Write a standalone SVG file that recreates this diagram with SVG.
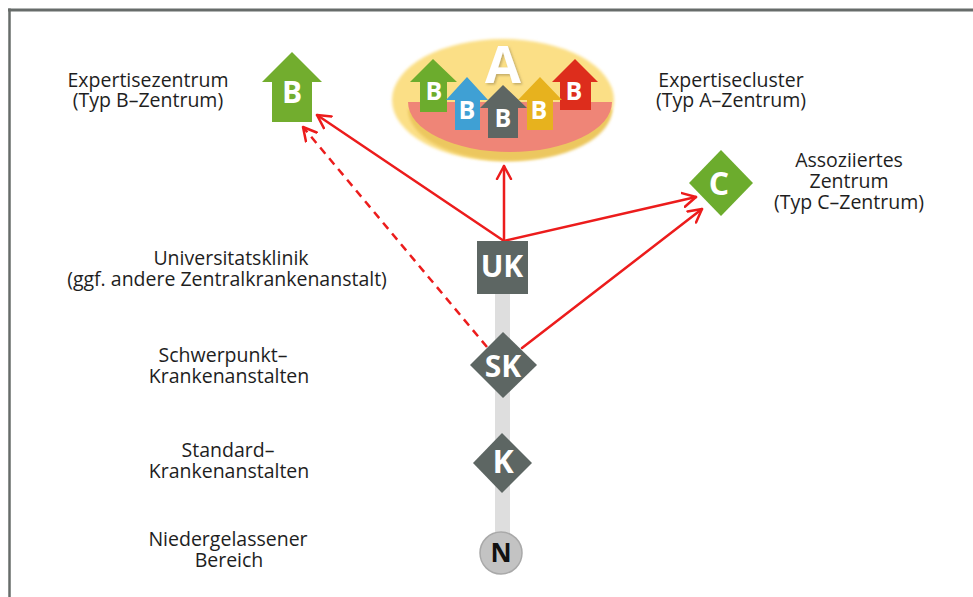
<svg xmlns="http://www.w3.org/2000/svg" width="973" height="597" viewBox="0 0 973 597">
  <defs>
    <style>
      .lbl { font-family: "Open Sans", "Liberation Sans", sans-serif; font-size: 19.5px; fill: #1e1e1e; text-anchor: middle; }
      .ltr { font-family: "Open Sans", "Liberation Sans", sans-serif; font-weight: bold; fill: #ffffff; text-anchor: middle; }
      .conn { stroke: #ec1c1c; stroke-width: 2.5; fill: none; stroke-linecap: round; }
      .dash { stroke-dasharray: 8 6; stroke-linecap: butt; }
      .frame { stroke: #676c6a; fill: none; }
    </style>
    <filter id="shadow" x="-30%" y="-30%" width="160%" height="160%">
      <feDropShadow dx="1.5" dy="1.5" stdDeviation="1" flood-color="#9a8550" flood-opacity="0.6"/>
    </filter>
    <filter id="soft" x="-10%" y="-10%" width="120%" height="120%">
      <feGaussianBlur stdDeviation="1.5"/>
    </filter>
    <marker id="arr" markerUnits="userSpaceOnUse" markerWidth="18" markerHeight="18" refX="14" refY="8" orient="auto" viewBox="0 0 18 16">
      <path d="M1,1 L14,8 L1,15" fill="none" stroke="#ec1c1c" stroke-width="2.5" stroke-linejoin="round" stroke-linecap="round"/>
    </marker>
  </defs>

  <rect x="0" y="0" width="973" height="597" fill="#ffffff"/>
  <!-- frame -->
  <line class="frame" x1="8" y1="10" x2="973" y2="10" stroke-width="3"/>
  <line class="frame" x1="9.5" y1="8.5" x2="9.5" y2="597" stroke-width="2.5"/>

  <!-- labels -->
  <g id="labels">
    <text class="lbl" x="148" y="87">Expertisezentrum</text>
    <text class="lbl" x="148" y="107">(Typ B–Zentrum)</text>
    <text class="lbl" x="731" y="87">Expertisecluster</text>
    <text class="lbl" x="731" y="107">(Typ A–Zentrum)</text>
    <text class="lbl" x="849" y="167">Assoziiertes</text>
    <text class="lbl" x="849" y="188">Zentrum</text>
    <text class="lbl" x="849" y="209">(Typ C–Zentrum)</text>
    <text class="lbl" x="231" y="265">Universitatsklinik</text>
    <text class="lbl" x="227" y="286">(ggf. andere Zentralkrankenanstalt)</text>
    <text class="lbl" x="223" y="362">Schwerpunkt–</text>
    <text class="lbl" x="229" y="383">Krankenanstalten</text>
    <text class="lbl" x="228" y="457">Standard–</text>
    <text class="lbl" x="229" y="478">Krankenanstalten</text>
    <text class="lbl" x="228" y="546">Niedergelassener</text>
    <text class="lbl" x="229" y="567">Bereich</text>
  </g>

  <!-- vertical gray spine -->
  <rect id="spine" x="495" y="292" width="15" height="242" fill="#dedede"/>

  <!-- connectors -->
  <g id="connectors">
    <line class="conn" x1="504" y1="241" x2="504" y2="166" marker-end="url(#arr)"/>
    <line class="conn" x1="504" y1="241" x2="317" y2="115" marker-end="url(#arr)"/>
    <line class="conn" x1="504" y1="241" x2="696" y2="197" marker-end="url(#arr)"/>
    <line class="conn dash" x1="487" y1="347" x2="303" y2="127" marker-end="url(#arr)"/>
    <line class="conn" x1="522" y1="348" x2="702" y2="209" marker-end="url(#arr)"/>
  </g>

  <!-- Expertisecluster (A) -->
  <g id="node-cluster">
    <ellipse cx="503" cy="100" rx="111" ry="61" fill="#fbdf86" filter="url(#soft)"/>
    <path d="M408,104 L612,104 A102,52 0 0 1 408,104 Z" fill="#ecc75e" transform="translate(0,5)" filter="url(#soft)"/>
    <path d="M408,102 L612,102 A102,50 0 0 1 408,102 Z" fill="#ef8577"/>
    <text x="503" y="83" class="ltr" font-size="52" filter="url(#shadow)">A</text>
    <path d="M433,59 L457,82 L447,82 L447,112 L420,112 L420,82 L410,82 Z" fill="#6cac2d"/>
    <text class="ltr" x="434" y="100" font-size="25">B</text>
    <path d="M575,59 L598,82 L591,82 L591,110 L560,110 L560,82 L552,82 Z" fill="#dd2d1c"/>
    <text class="ltr" x="574" y="100" font-size="25">B</text>
    <path d="M467,77 L488,100 L480,100 L480,130 L455,130 L455,100 L446,100 Z" fill="#3fa0d4"/>
    <text class="ltr" x="467" y="119" font-size="25">B</text>
    <path d="M540,77 L562,100 L553,100 L553,130 L527,130 L527,100 L518,100 Z" fill="#e7b21e"/>
    <text class="ltr" x="539" y="119" font-size="25">B</text>
    <path d="M503,85 L527,108 L518,108 L518,138 L488,138 L488,108 L480,108 Z" fill="#5e6663"/>
    <text class="ltr" x="503" y="127" font-size="25">B</text>
  </g>

  <!-- Expertisezentrum (B) -->
  <g id="node-b">
    <path d="M292,52 L322,82 L312,82 L312,122 L272,122 L272,82 L262,82 Z" fill="#72ad2e"/>
    <text class="ltr" x="292" y="103" font-size="30">B</text>
  </g>

  <!-- Assoziiertes Zentrum (C) -->
  <g id="node-c">
    <path d="M721,150 L753,183 L721,216 L689,183 Z" fill="#6cac2d"/>
    <text class="ltr" x="719" y="195" font-size="32">C</text>
  </g>

  <!-- UK -->
  <g id="node-uk">
    <rect x="477" y="241" width="51" height="53" fill="#5d6663"/>
    <text class="ltr" x="502" y="277" font-size="30">UK</text>
  </g>

  <!-- SK -->
  <g id="node-sk">
    <path d="M503,332 L537,365 L503,398 L470,365 Z" fill="#5d6663"/>
    <text class="ltr" x="503" y="377" font-size="30">SK</text>
  </g>

  <!-- K -->
  <g id="node-k">
    <path d="M502,433 L532,463 L502,493 L473,463 Z" fill="#5d6663"/>
    <text class="ltr" x="503" y="473" font-size="32" font-weight="600">K</text>
  </g>

  <!-- N -->
  <g id="node-n">
    <circle cx="501" cy="553" r="21" fill="#c3c3c3" stroke="#a9a9a9" stroke-width="1.5"/>
    <text x="501" y="562" font-family="Open Sans, Liberation Sans, sans-serif" font-weight="bold" font-size="26" fill="#111111" text-anchor="middle">N</text>
  </g>
</svg>
